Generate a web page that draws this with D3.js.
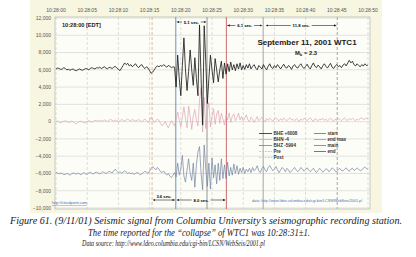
<!DOCTYPE html>
<html>
<head>
<meta charset="utf-8">
<script src="https://cdn.jsdelivr.net/npm/d3@7"></script>
<style>
  body { margin: 0; background: #fff; }
  svg { display: block; }
  .tick-label { font-family: "Liberation Sans", Arial, sans-serif; font-size: 5px; fill: #555; }
  .caption { font-family: "Liberation Serif", serif; font-style: italic; fill: #1a1a1a; }
</style>
</head>
<body>
<script>
// seconds after 10:28:00, one sample every 0.25 s
const step = 0.25

// BHE (offset +6008)
const bhe = [
  6100, 6200, 6150, 6050, 6100, 6250, 6150, 6000, 6050, 5950, 6050, 6100,
  5950, 5900, 6000, 6100, 6000, 5950, 6050, 6150, 6100, 6000, 6150, 6250,
  6150, 6100, 6250, 6200, 6300, 6150, 6250, 6350, 6200, 6100, 6300, 6250,
  6150, 6300, 6400, 6200, 6050, 5900, 6200, 6500, 6800, 6600, 6750, 6450,
  6600, 6350, 6550, 6700, 6400, 6250, 6500, 6600, 6300, 6150, 6350, 6200,
  5900, 5600, 5750, 6000, 6300, 6450, 6350, 6500, 6400, 6600, 6450, 6300,
  6500, 6400, 6250, 6350, 6300, 4000, 7700, 5000, 3000, 6500, 9700, 6000,
  3600, 5800, 8300, 6000, 4200, 7400, 5000, 3000, 11200, 5000, -400, 11100,
  7000, 2100, 5000, 7700, 6000, 4500, 7300, 6000, 4600, 6000, 7000, 5000,
  6800, 5500, 6700, 5800, 6900, 6000, 6600, 5900, 6700, 6100, 6800, 6000,
  6500, 6050, 6600, 6200, 6700, 6100, 6400, 6600, 6200, 6000, 6500, 6300,
  6100, 6600, 6250, 6000, 6400, 6700, 6300, 6150, 6500, 6250, 6600, 6350,
  6100, 6400, 6650, 6300, 6200, 6500, 6350, 6050, 6450, 6600, 6300, 6200,
  6500, 6700, 6350, 6150, 6400, 6650, 6300, 6100, 6500, 6800, 6400, 6250,
  6550, 6350, 6100, 6450, 6700, 6400, 6200, 6500, 6750, 6300, 6150, 6450,
  6600, 6350, 6500, 6250, 6550, 6700, 6450, 6800, 7100, 6800, 7000, 6600,
  6450, 6700, 6500, 6350, 6600, 6450, 6700, 6500, 6550
]

// BHN (offset -4)
const bhn = [
  0, 100, -50, -150, -50, 50, 100, 0, -100, -50, 50, 0,
  -150, -250, -100, 0, 50, -50, -150, -100, 0, 100, 50, -50,
  0, 150, 100, 50, 150, 50, 100, 200, 100, 0, 150, 250,
  150, 50, 200, 100, 0, 100, 250, 150, 50, 200, 300, 150,
  100, 250, 150, 50, 150, 250, 100, 0, 150, 300, 100, -100,
  200, 500, 200, -100, 100, 300, 150, -200, -500, -300, 0, -400,
  -700, -300, 100, -200, -500, 300, 1100, 200, -600, 500, 1700, 300,
  -700, 1800, 600, -900, 700, 1400, 200, -500, 2500, 3900, -1200, 2800,
  -800, 1200, 2200, -600, 600, 1500, -300, 900, 1300, -200, 1000, 300,
  -400, 800, 200, 1000, -100, 600, 900, 100, 500, 1000, 200, 600,
  100, 400, 800, 200, 0, 500, 300, -100, 200, 600, 100, 300,
  500, 200, 0, 350, 150, 400, 250, 50, 300, 450, 200, 100,
  350, 150, 400, 250, 100, 300, 450, 200, 250, 100, 350, 200,
  50, 300, 150, 400, 250, 100, 300, 450, 200, 50, 350, 250,
  100, 300, 200, 400, 150, 300, 100, 250, 400, 200, 50, 300,
  150, 350, 250, 100, 300, 450, 200, 150, 350, 200, 400, 250,
  100, 300, 200, 350, 450, 250, 300, 400, 350
]

// BHZ (offset -5994)
const bhz = [
  -5850, -5950, -6050, -5950, -6000, -6150, -6100, -6000, -6100, -6200, -6050, -5950,
  -6000, -6100, -5950, -6050, -6150, -6000, -5900, -6050, -6100, -5950, -5850, -6000,
  -6050, -5900, -5850, -5950, -6050, -5950, -5800, -5900, -6000, -5900, -5750, -5850,
  -5950, -5700, -5500, -5750, -5900, -5800, -5950, -5850, -5700, -5850, -6000, -5900,
  -6050, -5950, -6100, -6000, -5900, -6000, -6150, -6050, -5900, -5750, -5850, -6000,
  -5700, -5400, -5200, -5400, -5600, -5300, -5500, -5800, -5900, -5700, -6000, -6200,
  -6000, -6300, -6500, -6200, -5900, -6400, -4800, -6200, -5500, -3900, -6300, -7000,
  -5600, -4300, -6000, -6800, -4800, -7600, -5000, -3500, -2900, -6000, -7900, -2700,
  -5500, -7500, -4800, -7800, -4200, -6500, -5000, -7200, -4800, -6800, -4300, -6600,
  -5000, -6600, -4700, -6300, -5300, -6200, -4900, -6000, -5100, -6100, -5400, -5900,
  -5300, -6000, -5500, -5800, -5400, -5900, -5300, -5700, -5500, -5100, -5700, -5900,
  -5400, -5200, -5600, -5800, -5300, -5100, -5400, -5700, -5500, -5200, -5600, -5900,
  -5600, -5300, -5500, -5800, -5400, -5600, -5900, -5700, -5500, -5300, -5600, -5800,
  -5600, -5300, -5500, -5750, -5550, -5350, -5600, -5800, -5600, -5400, -5700, -5900,
  -5650, -5400, -5600, -5850, -5700, -5450, -5550, -5800, -5600, -5350, -5500, -5750,
  -5800, -5550, -5400, -5650, -5700, -5500, -5350, -5600, -5750, -5500, -5400, -5650,
  -5550, -5350, -5500, -5700, -5600, -5400, -5250, -5450, -5500
]

const timeTicks = ['10:28:00', '10:28:05', '10:28:10', '10:28:15', '10:28:20', '10:28:25',
  '10:28:30', '10:28:35', '10:28:40', '10:28:45', '10:28:50']
const yTicks = [12000, 10000, 8000, 6000, 4000, 2000, 0, -2000, -4000, -6000, -8000, -10000]

// marker lines (seconds after 10:28:00)
const markerNames = ['Pre', 'start', 'end max', 'main', 'end', 'Post']
const markerTimes = [15.4, 19.2, 24.2, 27.3, 33.2, 45.1]
const markerColors = ['#e3b48e', '#5a86b4', '#8a8a8a', '#c8575a', '#9a9a9a', '#b5b5b5']
const markerDash = ['3,2', null, null, null, null, '3,2']

// interval annotations
const spanLabels = ['5.1 sec.', '6.1 sec.', '11.8 sec.', '3.6 sec.', '8.0 sec.']
const spanFrom = [19.2, 27.3, 33.5, 15.4, 19.2]
const spanTo = [24.2, 33.2, 45.1, 19.2, 27.3]

const width = 416
const height = 257

const svg = d3.select('body').append('svg')
  .attr('width', width)
  .attr('height', height)

const x = d3.scaleLinear().domain([0, 50]).range([56, 368])
const y = d3.scaleLinear().domain([-10000, 12000]).range([208, 18])

// scanned page tint
svg.append('rect')
  .attr('x', 30).attr('y', 0).attr('width', 352).attr('height', 213)
  .attr('fill', '#f6f6e1')
svg.append('rect')
  .attr('x', 55).attr('y', 17).attr('width', 315).attr('height', 192)
  .attr('fill', '#fdfdf8')
  .attr('stroke', '#aaa').attr('stroke-width', 0.6)

// grid
svg.append('g')
  .selectAll('line')
  .data(yTicks)
  .enter()
  .append('line')
  .attr('x1', 55).attr('x2', 370)
  .attr('y1', d => y(d)).attr('y2', d => y(d))
  .attr('stroke', '#cfcfcf').attr('stroke-width', 0.6)

svg.append('g')
  .selectAll('line')
  .data(timeTicks)
  .enter()
  .append('line')
  .attr('x1', (d, i) => x(i * 5)).attr('x2', (d, i) => x(i * 5))
  .attr('y1', 17).attr('y2', 209)
  .attr('stroke', '#c6c6c6').attr('stroke-width', 0.6)
  .attr('stroke-dasharray', '3,2')

// tick labels
svg.append('g')
  .selectAll('text')
  .data(timeTicks)
  .enter()
  .append('text')
  .attr('class', 'tick-label')
  .attr('x', (d, i) => x(i * 5))
  .attr('y', 12)
  .attr('text-anchor', 'middle')
  .text(d => d)

svg.append('g')
  .selectAll('text')
  .data(yTicks)
  .enter()
  .append('text')
  .attr('class', 'tick-label')
  .attr('x', 51)
  .attr('y', d => y(d) + 1.8)
  .attr('text-anchor', 'end')
  .text(d => d3.format(',')(d))

// marker lines
svg.append('g')
  .selectAll('line')
  .data(markerTimes)
  .enter()
  .append('line')
  .attr('x1', d => x(d)).attr('x2', d => x(d))
  .attr('y1', 17).attr('y2', 209)
  .attr('stroke', (d, i) => markerColors[i])
  .attr('stroke-width', 0.9)
  .attr('stroke-dasharray', (d, i) => markerDash[i])

// traces
const line = d3.line()
  .x((d, i) => x(i * step))
  .y(d => y(d))

const traces = [
  { values: bhz, color: '#71829f', w: 0.7 },
  { values: bhn, color: '#dba3b3', w: 0.7 },
  { values: bhe, color: '#1e1e1e', w: 0.85 }
]

svg.append('g')
  .selectAll('path')
  .data(traces)
  .enter()
  .append('path')
  .attr('d', d => line(d.values))
  .attr('fill', 'none')
  .attr('stroke', d => d.color)
  .attr('stroke-width', d => d.w)
  .attr('stroke-linejoin', 'round')

// interval arrows
const spanY = [22, 25.5, 25.5, 200, 200]
const defs = svg.append('defs')
defs.append('marker')
  .attr('id', 'arr')
  .attr('viewBox', '0 0 6 6')
  .attr('refX', 6).attr('refY', 3)
  .attr('markerWidth', 4).attr('markerHeight', 4)
  .attr('orient', 'auto-start-reverse')
  .append('path')
  .attr('d', 'M0,0L6,3L0,6Z')
  .attr('fill', '#222')

const spans = svg.append('g')
spanLabels.forEach((lab, i) => {
  const x1 = x(spanFrom[i]) + 1
  const x2 = x(spanTo[i]) - 1
  const mid = (x1 + x2) / 2
  const tw = lab.length * 2.1 + 2
  const below = i === 3
  if (below) {
    spans.append('line')
      .attr('x1', x1).attr('x2', x2).attr('y1', spanY[i]).attr('y2', spanY[i])
      .attr('stroke', '#222').attr('stroke-width', 0.6)
      .attr('marker-start', 'url(#arr)').attr('marker-end', 'url(#arr)')
    spans.append('text')
      .attr('x', mid).attr('y', spanY[i] - 2)
      .attr('text-anchor', 'middle')
      .attr('font-family', 'Liberation Sans, Arial, sans-serif')
      .attr('font-size', 4.2).attr('font-weight', 'bold')
      .text(lab)
  } else {
    spans.append('line')
      .attr('x1', mid - tw / 2).attr('x2', x1).attr('y1', spanY[i]).attr('y2', spanY[i])
      .attr('stroke', '#222').attr('stroke-width', 0.6)
      .attr('marker-end', 'url(#arr)')
    spans.append('line')
      .attr('x1', mid + tw / 2).attr('x2', x2).attr('y1', spanY[i]).attr('y2', spanY[i])
      .attr('stroke', '#222').attr('stroke-width', 0.6)
      .attr('marker-end', 'url(#arr)')
    spans.append('text')
      .attr('x', mid).attr('y', spanY[i] + 1.5)
      .attr('text-anchor', 'middle')
      .attr('font-family', 'Liberation Sans, Arial, sans-serif')
      .attr('font-size', 4.2).attr('font-weight', 'bold')
      .text(lab)
  }
})

// headings inside the plot
svg.append('text')
  .attr('x', 62).attr('y', 26.5)
  .attr('font-family', 'Liberation Sans, Arial, sans-serif')
  .attr('font-size', 5.6).attr('font-weight', 'bold').attr('fill', '#222')
  .text('10:28:00 [EDT]')

svg.append('text')
  .attr('x', 307).attr('y', 45)
  .attr('text-anchor', 'middle')
  .attr('font-family', 'Liberation Sans, Arial, sans-serif')
  .attr('font-size', 8).attr('font-weight', 'bold').attr('fill', '#1a1a1a')
  .text('September 11, 2001 WTC1')

const mb = svg.append('text')
  .attr('x', 306).attr('y', 54.5)
  .attr('text-anchor', 'middle')
  .attr('font-family', 'Liberation Sans, Arial, sans-serif')
  .attr('font-size', 5.8).attr('font-weight', 'bold').attr('fill', '#1a1a1a')
mb.append('tspan').text('M')
mb.append('tspan').attr('font-size', 4).attr('dy', 1.5).text('b')
mb.append('tspan').attr('dy', -1.5).text(' = 2.3')

// legend
const legendA = ['BHE +6008', 'BHN -4', 'BHZ -5994', 'Pre', 'Post']
const legendAColor = ['#1e1e1e', '#dba3b3', '#71829f', '#e3b48e', '#c8c8c8']
const legendB = ['start', 'end max', 'main', 'end']
const legendBColor = ['#5c6f86', '#9a9a9a', '#c8575a', '#555']

const leg = svg.append('g')
  .attr('font-family', 'Liberation Sans, Arial, sans-serif')
  .attr('font-size', 4.6).attr('font-weight', 'bold').attr('fill', '#333')

legendA.forEach((d, i) => {
  const ly = 133.5 + i * 6
  leg.append('line')
    .attr('x1', 259).attr('x2', 272).attr('y1', ly).attr('y2', ly)
    .attr('stroke', legendAColor[i]).attr('stroke-width', 0.8)
    .attr('stroke-dasharray', i > 2 ? '2,1' : null)
  leg.append('text').attr('x', 273.5).attr('y', ly + 1.6).text(d)
})
legendB.forEach((d, i) => {
  const ly = 133.5 + i * 6
  leg.append('line')
    .attr('x1', 314).attr('x2', 326).attr('y1', ly).attr('y2', ly)
    .attr('stroke', legendBColor[i]).attr('stroke-width', 0.8)
  leg.append('text').attr('x', 327.5).attr('y', ly + 1.6).text(d)
})

// small links on the chart
svg.append('text')
  .attr('x', 52).attr('y', 204)
  .attr('font-family', 'Liberation Sans, Arial, sans-serif')
  .attr('font-size', 3.8).attr('fill', '#4a6fb0')
  .attr('text-decoration', 'underline')
  .text('http://cloudpoint.com')

svg.append('text')
  .attr('x', 252).attr('y', 202)
  .attr('font-family', 'Liberation Sans, Arial, sans-serif')
  .attr('font-size', 3.4).attr('fill', '#4a6fb0')
  .attr('textLength', 110).attr('lengthAdjust', 'spacingAndGlyphs')
  .text('data: http://www.ldeo.columbia.edu/cgi-bin/LCSN/WebSeis/2001.pl')

// caption
svg.append('text')
  .attr('class', 'caption')
  .attr('x', 10).attr('y', 224)
  .attr('font-size', 9.6)
  .attr('textLength', 392).attr('lengthAdjust', 'spacingAndGlyphs')
  .text('Figure 61. (9/11/01) Seismic signal from Columbia University\u2019s seismographic recording station.')

svg.append('text')
  .attr('class', 'caption')
  .attr('x', 88).attr('y', 236)
  .attr('font-size', 10.2)
  .attr('textLength', 222).attr('lengthAdjust', 'spacingAndGlyphs')
  .text('The time reported for the \u201Ccollapse\u201D of WTC1 was 10:28:31\u00B11.')

svg.append('text')
  .attr('class', 'caption')
  .attr('x', 82).attr('y', 246)
  .attr('font-size', 7.5)
  .attr('textLength', 183).attr('lengthAdjust', 'spacingAndGlyphs')
  .text('Data source: http://www.ldeo.columbia.edu/cgi-bin/LCSN/WebSeis/2001.pl')
</script>
</body>
</html>
